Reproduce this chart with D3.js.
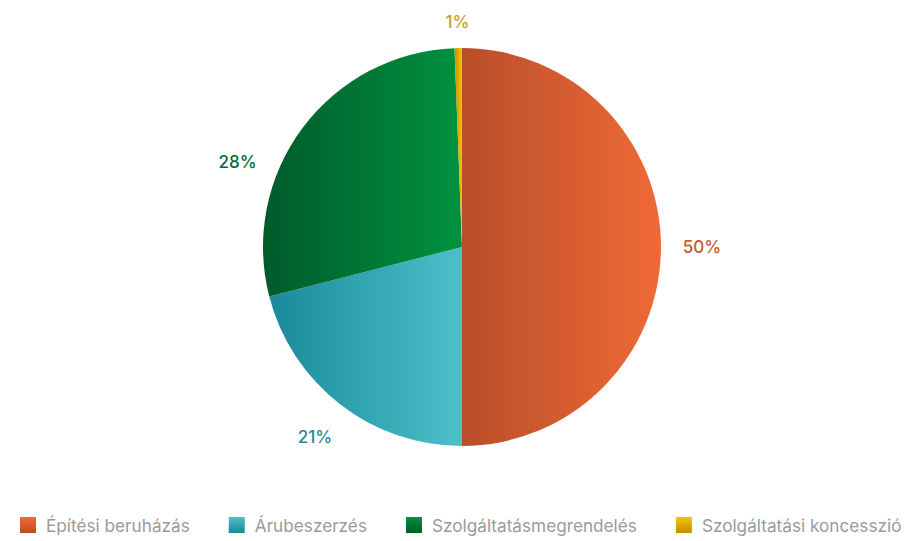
<!DOCTYPE html>
<meta charset="utf-8">
<style>
 body { margin: 0; background: #fff; }
 text { font-family: Inter, "Noto Sans", sans-serif; }
 .label { font-size: 17px; font-weight: 500; }
 .legend text { font-size: 17.2px; fill: #9b9b9b; }
</style>
<svg id="chart"></svg>
<script src="https://cdn.jsdelivr.net/npm/d3@7"></script>
<script>

 var categories = ["Építési beruházás", "Árubeszerzés", "Szolgáltatásmegrendelés", "Szolgáltatási koncesszió"];
 var values = [50.0, 21.0, 28.4, 0.6];

 // dark / light ends of each gradient, and label colour
 var darkColors = ["#b94e2a", "#1a8a9b", "#005a2b", "#c09000"];
 var lightColors = ["#ef6a36", "#4cc0ca", "#00923f", "#f5c400"];
 var labelColors = ["#c45a30", "#1e8a9a", "#006b35", "#c9a227"];

 var width = 906, height = 541;
 var cx = 462, cy = 247, radius = 199, labelRadius = 240;
 var labelNudge = [0, 0, -16, 0];   // degrees, keeps labels clear of each other

 var svg = d3.select("#chart").attr("width", width).attr("height", height);
 var defs = svg.append("defs");

 categories.forEach(function(c, i) {
     var h = defs.append("linearGradient").attr("id", "h" + i)
                 .attr("x1", 0).attr("x2", 1).attr("y1", 0).attr("y2", 0);
     h.append("stop").attr("offset", "0%").attr("stop-color", darkColors[i]);
     h.append("stop").attr("offset", "100%").attr("stop-color", lightColors[i]);
     var v = defs.append("linearGradient").attr("id", "v" + i)
                 .attr("x1", 0).attr("x2", 0).attr("y1", 0).attr("y2", 1);
     v.append("stop").attr("offset", "0%").attr("stop-color", lightColors[i]);
     v.append("stop").attr("offset", "100%").attr("stop-color", darkColors[i]);
 });

 var pie = d3.pie().sort(null).value(function(d) { return d; });
 var arcs = pie(values);
 var arc = d3.arc().innerRadius(0).outerRadius(radius);

 var g = svg.append("g").attr("transform", "translate(" + cx + "," + cy + ")");

 g.selectAll("path.slice").data(arcs).enter()
  .append("path").attr("class", "slice")
  .attr("d", arc)
  .attr("fill", function(d, i) { return "url(#h" + i + ")"; });

 var total = d3.sum(values);
 g.selectAll("text.label").data(arcs).enter()
  .append("text").attr("class", "label")
  .attr("text-anchor", "middle")
  .attr("dominant-baseline", "central")
  .attr("fill", function(d, i) { return labelColors[i]; })
  .attr("transform", function(d, i) {
      var a = (d.startAngle + d.endAngle) / 2 + labelNudge[i] * Math.PI / 180;
      var x = labelRadius * Math.sin(a);
      var y = Math.max(-labelRadius * Math.cos(a), 22 - cy);
      return "translate(" + x + "," + y + ")";
  })
  .text(function(d) { return Math.round(d.value / total * 100) + "%"; });

 // legend, laid out from measured text widths
 var legend = svg.append("g").attr("class", "legend");
 var lx = 20, ly = 525, box = 16, gapText = 10, gapItem = 39;
 categories.forEach(function(c, i) {
     var item = legend.append("g").attr("transform", "translate(" + lx + "," + ly + ")");
     item.append("rect").attr("x", 0).attr("y", -box / 2)
         .attr("width", box).attr("height", box)
         .attr("fill", "url(#v" + i + ")");
     var t = item.append("text").attr("x", box + gapText).attr("dominant-baseline", "central").text(c);
     lx += box + gapText + t.node().getComputedTextLength() + gapItem;
 });

</script>
